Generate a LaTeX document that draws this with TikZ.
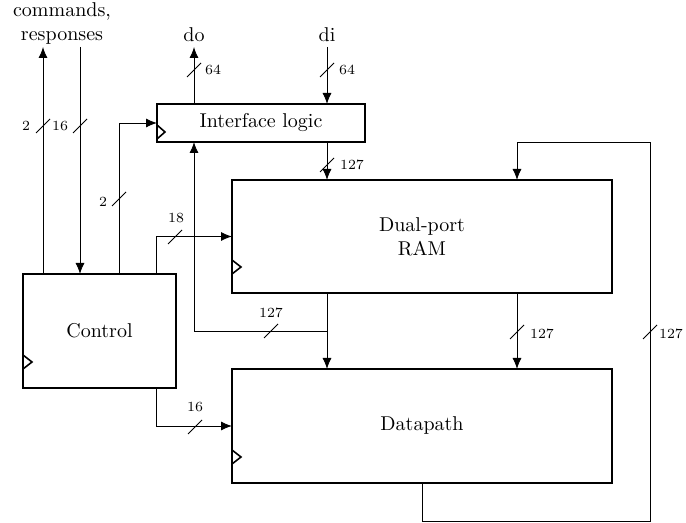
\documentclass[tikz,border=0pt]{standalone}
\usetikzlibrary{arrows.meta,calc}
\newcommand\busmark[2]{\draw[wire] (#1-7,#2+7) -- (#1+7,#2-7);}
\begin{document}
\begin{tikzpicture}[x=0.5pt,y=-0.5pt,
  blk/.style={draw,line width=0.8pt,inner sep=0pt,outer sep=0pt,align=center},
  wire/.style={line width=0.45pt},
  arr/.style={wire,-{Latex[length=5.5pt,width=4.5pt]}},
  lbl/.style={font=\scriptsize,inner sep=0pt}]
\useasboundingbox (0,0) rectangle (686,523);
% blocks
\node[blk,minimum width=104pt,minimum height=19pt] (ifl) at (261,123) {Interface logic};
\node[blk,minimum width=190pt,minimum height=56.5pt] (ram) at (422,236.5) {Dual-port\\RAM};
\node[blk,minimum width=190pt,minimum height=57pt] (dp) at (422,426) {Datapath};
\node[blk,minimum width=76.5pt,minimum height=57pt] (ctrl) at (99.5,331) {Control};
% clock marks
\draw[line width=0.8pt] (ifl.south west) ++(0,-17) -- ++(8,7) -- ++(-8,7);
\draw[line width=0.8pt] (ram.south west) ++(0,-33) -- ++(9,7) -- ++(-9,7);
\draw[line width=0.8pt] (dp.south west) ++(0,-33) -- ++(9,7) -- ++(-9,7);
\draw[line width=0.8pt] (ctrl.south west) ++(0,-33) -- ++(9,7) -- ++(-9,7);
% free ends
\coordinate (cmdout) at (43,47);
\coordinate (cmdin) at (80,47);
\coordinate (doo) at (194,47);
\coordinate (dii) at (327,47);
\coordinate (br) at (327,331);
\coordinate (xr) at (517,0);
\coordinate (fbx) at (650,142);
% top labels
\node[align=center] (cmdlbl) at (62,24) {commands,\\responses};
\node (dolbl) at (194,35) {do};
\node (dilbl) at (327,35) {di};
% connectors
\draw[arr] (ctrl.north -| cmdout) -- (cmdout);
\draw[arr] (cmdin) -- (ctrl.north -| cmdin);
\draw[arr] (ctrl.north west) ++(96,0) |- (ifl.west);
\draw[arr] (ctrl.north west) ++(133.5,0) |- (ram.west);
\draw[arr] (ctrl.south west) ++(133.5,0) |- (dp.west);
\draw[arr] (ifl.north -| doo) -- (doo);
\draw[arr] (dii) -- (ifl.north -| dii);
\draw[arr] (ifl.south -| dii) -- (ram.north -| dii);
\draw[arr] (ram.south -| dii) -- (dp.north -| dii);
\draw[arr] (br) -| (ifl.south -| doo);
\draw[arr] (ram.south -| xr) -- (dp.north -| xr);
\draw[arr] (dp.south) -- ++(0,38) -| (fbx) -| (ram.north -| xr);
% bus marks and widths
\busmark{43}{126}  \node[lbl] at (26,126) {2};
\busmark{80}{126}  \node[lbl] at (60,126) {16};
\busmark{119}{199} \node[lbl] at (103,202) {2};
\busmark{175}{237} \node[lbl] at (176,218) {18};
\busmark{195}{427} \node[lbl] at (195,407) {16};
\busmark{194}{70}  \node[lbl] at (213,70) {64};
\busmark{327}{70}  \node[lbl] at (347,70) {64};
\busmark{327}{165} \node[lbl] at (352,165) {127};
\busmark{271}{331} \node[lbl] at (271,313) {127};
\busmark{517}{332} \node[lbl] at (542,334) {127};
\busmark{650}{332} \node[lbl] at (671,334) {127};
\end{tikzpicture}
\end{document}
